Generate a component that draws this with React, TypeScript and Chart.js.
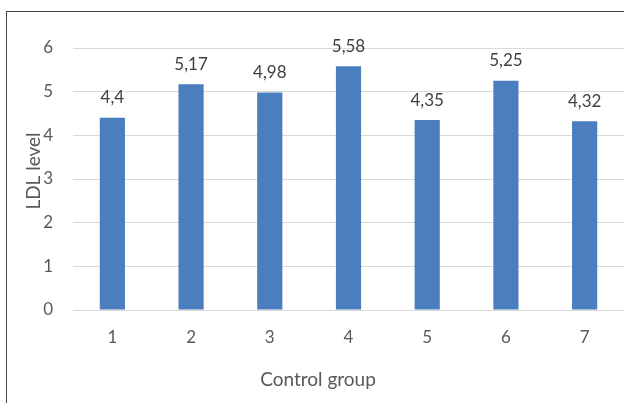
import React, { useEffect, useRef } from "react";
import { Chart, registerables } from "chart.js";

Chart.register(...registerables);

const categories = ["1", "2", "3", "4", "5", "6", "7"];
const ldlValues = [4.4, 5.17, 4.98, 5.58, 4.35, 5.25, 4.32];
const yTitle = "LDL level";
const xTitle = "Control group";

const FONT = "Lato, 'Open Sans', sans-serif";
const TEXT = "#595959";

const dataLabelPlugin = {
  id: "dataLabels",
  afterDatasetsDraw(chart: any) {
    const ctx = chart.ctx;
    const meta = chart.getDatasetMeta(0);
    ctx.save();
    ctx.font = `17px ${FONT}`;
    ctx.fillStyle = "#404040";
    ctx.textAlign = "center";
    ctx.textBaseline = "middle";
    meta.data.forEach((bar: any, i: number) => {
      const txt = String(ldlValues[i]).replace(".", ",");
      ctx.fillText(txt, bar.x, bar.y - 20);
    });
    ctx.restore();
  },
};

// Axis titles placed as in the reference (slightly off the plot centre)
const axisTitlePlugin = {
  id: "axisTitles",
  afterDraw(chart: any) {
    const ctx = chart.ctx;
    ctx.save();
    ctx.font = `19px ${FONT}`;
    ctx.fillStyle = TEXT;
    ctx.textAlign = "center";
    ctx.textBaseline = "middle";
    ctx.fillText(xTitle, 318, 380);
    ctx.translate(34, 171);
    ctx.rotate(-Math.PI / 2);
    ctx.fillText(yTitle, 0, 0);
    ctx.restore();
  },
};

export default function App() {
  const ref = useRef<HTMLCanvasElement | null>(null);
  useEffect(() => {
    if (!ref.current) return;
    const chart = new Chart(ref.current, {
      type: "bar",
      data: {
        labels: categories,
        datasets: [
          {
            data: ldlValues,
            backgroundColor: "#4a7ebf",
            barPercentage: 0.32,
            categoryPercentage: 1,
          },
        ],
      },
      options: {
        responsive: false,
        animation: false,
        layout: { padding: { top: 48, left: 0, right: 0, bottom: 0 } },
        plugins: { legend: { display: false }, tooltip: { enabled: false } },
        scales: {
          x: {
            afterFit: (s: any) => {
              s.height = 93;
            },
            grid: { display: false, drawTicks: false },
            border: { display: true, color: "#d9d9d9" },
            ticks: { color: TEXT, font: { family: FONT, size: 17 }, padding: 17 },
            title: { display: false },
          },
          y: {
            min: 0,
            max: 6,
            afterFit: (s: any) => {
              s.width = 73;
            },
            ticks: { stepSize: 1, color: TEXT, font: { family: FONT, size: 17 }, padding: 20 },
            grid: { color: "#d9d9d9", drawTicks: false },
            border: { display: false },
            title: { display: false },
          },
        },
      },
      plugins: [dataLabelPlugin, axisTitlePlugin],
    });
    return () => chart.destroy();
  }, []);
  return (
    <div style={{ position: "fixed", left: 0, top: 0, width: 624, height: 403, background: "#fff", overflow: "hidden" }}>
      <div
        style={{
          position: "absolute",
          left: 6,
          top: 11,
          width: 700,
          height: 500,
          borderLeft: "1px solid #444",
          borderTop: "1px solid #444",
        }}
      />
      <canvas ref={ref} width={624} height={403} style={{ position: "absolute", left: 0, top: 0 }} />
    </div>
  );
}
